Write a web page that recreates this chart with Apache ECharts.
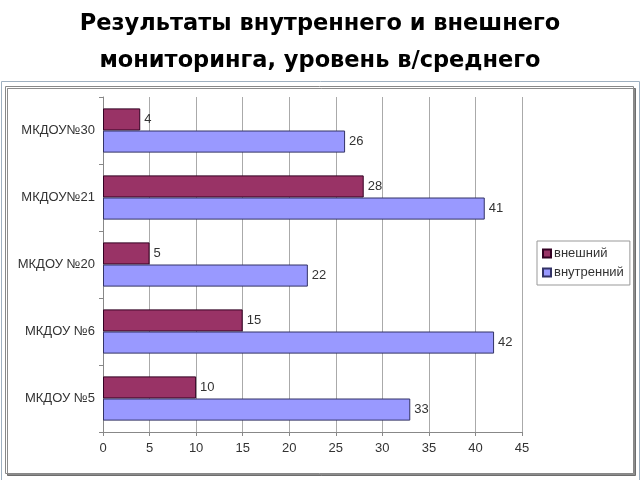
<!DOCTYPE html>
<html><head><meta charset="utf-8">
<script src="https://cdn.jsdelivr.net/npm/echarts@6/dist/echarts.min.js"></script>
<style>html,body{margin:0;padding:0;background:#fff}#c{width:640px;height:480px}</style>
</head><body><div id="c"></div>
<script>
const categories = ['МКДОУ №5', 'МКДОУ №6', 'МКДОУ №20', 'МКДОУ№21', 'МКДОУ№30'];
const external = [10, 15, 5, 28, 4];
const internal = [33, 42, 22, 41, 26];
const seriesNames = ['внешний', 'внутренний'];
const xTicks = [0, 5, 10, 15, 20, 25, 30, 35, 40, 45];

const chart = echarts.init(document.getElementById('c'));
const labelStyle = {show: true, position: 'right', distance: 4, color: '#333', fontFamily: 'Liberation Sans, Arial', fontSize: 13};
chart.setOption({
  animation: false,
  title: {
    text: 'Результаты внутреннего и внешнего\nмониторинга, уровень в/среднего',
    left: 'center', top: 1,
    textStyle: {fontFamily: 'DejaVu Sans', fontWeight: 'bold', fontSize: 22.5, lineHeight: 37, color: '#000'}
  },
  graphic: [
    {type: 'rect', shape: {x: 1.5, y: 81.5, width: 638, height: 400}, style: {fill: 'none', stroke: '#9fb0c0', lineWidth: 1}, z: -10},
    {type: 'rect', shape: {x: 5.5, y: 86.5, width: 628, height: 387}, style: {fill: '#fff', stroke: '#888', lineWidth: 1, shadowColor: 'rgba(0,0,0,0.45)', shadowOffsetX: 2, shadowOffsetY: 2}, z: -9}
  ],
  legend: {
    data: seriesNames,
    orient: 'vertical',
    left: 537, top: 241,
    width: 95,
    padding: [6, 6, 6, 5],
    itemGap: 6,
    itemWidth: 8, itemHeight: 8,
    borderColor: '#999', borderWidth: 1,
    icon: 'rect',
    textStyle: {fontFamily: 'Liberation Sans, Arial', fontSize: 13, color: '#333', padding: [0,0,0,-2]}
  },
  grid: {left: 103, right: 118, top: 97, bottom: 48},
  xAxis: {
    type: 'value', min: 0, max: 45, interval: 5,
    axisLine: {show: true, lineStyle: {color: '#888'}},
    axisTick: {show: true, length: 4, lineStyle: {color: '#888'}},
    splitLine: {show: true, lineStyle: {color: '#aaa'}},
    axisLabel: {color: '#333', fontFamily: 'Liberation Sans, Arial', fontSize: 13, margin: 10,
      formatter: v => xTicks.includes(v) ? String(v) : ''}
  },
  yAxis: {
    type: 'category', data: categories,
    axisLine: {show: true, lineStyle: {color: '#888'}},
    axisTick: {show: true, length: 4, lineStyle: {color: '#888'}},
    axisLabel: {color: '#333', fontFamily: 'Liberation Sans, Arial', fontSize: 13, margin: 8}
  },
  series: [
    {name: seriesNames[0], type: 'bar', data: external, barGap: '0%', barCategoryGap: '34%',
     itemStyle: {color: '#993366', borderColor: '#330022', borderWidth: 1}, label: labelStyle},
    {name: seriesNames[1], type: 'bar', data: internal, barGap: '0%', barCategoryGap: '34%',
     itemStyle: {color: '#9999FF', borderColor: '#333366', borderWidth: 1}, label: labelStyle}
  ]
});
</script></body></html>
